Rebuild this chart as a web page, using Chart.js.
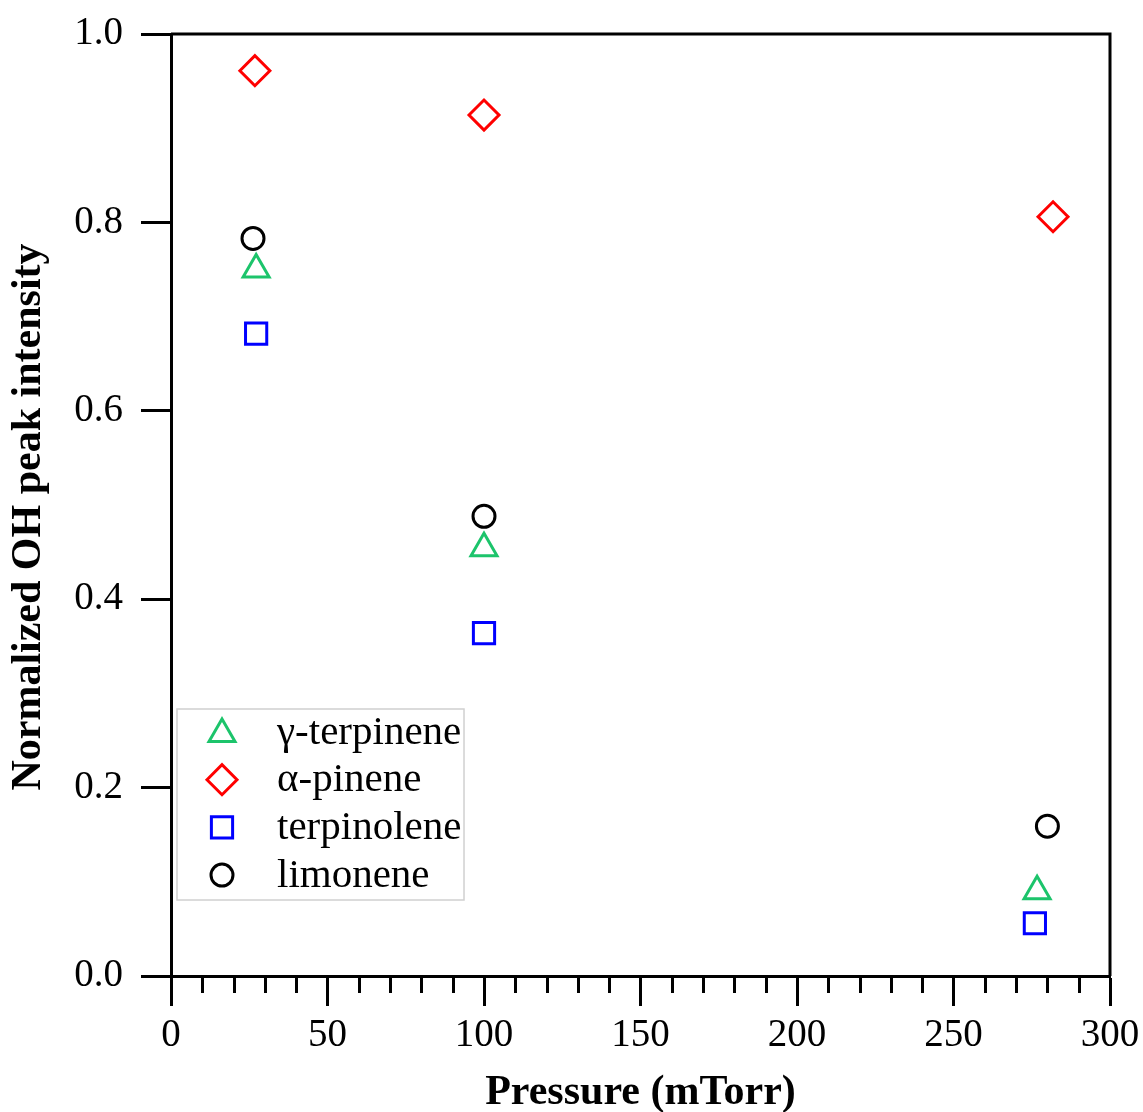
<!DOCTYPE html>
<html>
<head>
<meta charset="utf-8">
<script src="https://cdn.jsdelivr.net/npm/chart.js@4/dist/chart.umd.min.js"></script>
<style>
  html, body { margin: 0; padding: 0; background: #fff; }
  #wrap { width: 1143px; height: 1112px; }
</style>
</head>
<body>
<div id="wrap"><canvas id="myChart" width="1143" height="1112"></canvas></div>
<script>
// series, pressure in mTorr vs normalized OH peak
var seriesNames = ["\u03b3-terpinene", "\u03b1-pinene", "terpinolene", "limonene"];

var gammaX = [27.2, 100, 276.7];
var gammaY = [0.75, 0.454, 0.09];

var alphaX = [26.8, 100, 281.8];
var alphaY = [0.961, 0.914, 0.806];

var terpX = [27.2, 100, 276];
var terpY = [0.682, 0.364, 0.056];

var limoX = [26.2, 100, 280];
var limoY = [0.783, 0.488, 0.159];

var xTicks = [0, 50, 100, 150, 200, 250, 300];
var yTicks = [0.0, 0.2, 0.4, 0.6, 0.8, 1.0];

var yTitle = "Normalized OH peak intensity";

function toPoints(xs, ys) {
  var pts = [];
  for (var i = 0; i < xs.length; i++) pts.push({ x: xs[i], y: ys[i] });
  return pts;
}

var serif = "'Liberation Serif', 'Times New Roman', serif";

// frame on top/right, minor ticks on x, y title and the boxed legend
var framePlugin = {
  id: "frame",
  afterDraw: function (chart) {
    var ctx = chart.ctx;
    var a = chart.chartArea;
    var xs = chart.scales.x;
    ctx.save();
    ctx.strokeStyle = "#000";
    ctx.lineWidth = 3;
    ctx.beginPath();
    ctx.moveTo(a.left, a.top);
    ctx.lineTo(a.right, a.top);
    ctx.lineTo(a.right, a.bottom);
    ctx.stroke();

    // minor ticks every 10 mTorr
    ctx.beginPath();
    for (var v = 10; v < 300; v += 10) {
      if (v % 50 === 0) continue;
      var px = Math.round(xs.getPixelForValue(v)) + 0.5;
      ctx.moveTo(px, a.bottom);
      ctx.lineTo(px, a.bottom + 17);
    }
    ctx.stroke();

    // y title, sits a little below the axis middle
    ctx.save();
    ctx.translate(29, (a.top + a.bottom) / 2 + 12);
    ctx.rotate(-Math.PI / 2);
    ctx.font = "bold 42px " + serif;
    ctx.fillStyle = "#000";
    ctx.textAlign = "center";
    ctx.textBaseline = "middle";
    ctx.fillText(yTitle, 0, 0);
    ctx.restore();

    // legend
    var lx = a.left + 6, ly = a.top + 675, lw = 287, lh = 191;
    ctx.lineWidth = 1.5;
    ctx.strokeStyle = "#d0d0d0";
    ctx.strokeRect(lx, ly, lw, lh);
    ctx.font = "41px " + serif;
    ctx.textBaseline = "middle";
    ctx.textAlign = "left";
    chart.data.datasets.forEach(function (ds, i) {
      var cy = ly + 23 + i * 47.7;
      var cx = lx + 45;
      ctx.strokeStyle = ds.borderColor;
      ctx.fillStyle = "rgba(0,0,0,0)";
      ctx.lineWidth = ds.borderWidth;
      Chart.helpers.drawPoint(ctx, {
        pointStyle: ds.pointStyle,
        radius: ds.pointRadius,
        borderWidth: ds.borderWidth,
        rotation: 0
      }, cx, cy + (ds.pointStyle === "triangle" ? 2 : 0));
      ctx.fillStyle = "#000";
      ctx.fillText(ds.label, lx + 100, cy + 1);
    });
    ctx.restore();
  }
};

var ctx = document.getElementById("myChart").getContext("2d");
var chart = new Chart(ctx, {
  type: "scatter",
  data: {
    datasets: [
      {
        label: seriesNames[0],
        data: toPoints(gammaX, gammaY),
        pointStyle: "triangle",
        pointRadius: 15,
        borderColor: "#1cc46b",
        backgroundColor: "rgba(0,0,0,0)",
        borderWidth: 3
      },
      {
        label: seriesNames[1],
        data: toPoints(alphaX, alphaY),
        pointStyle: "rectRot",
        pointRadius: 15,
        borderColor: "#ff0000",
        backgroundColor: "rgba(0,0,0,0)",
        borderWidth: 3
      },
      {
        label: seriesNames[2],
        data: toPoints(terpX, terpY),
        pointStyle: "rect",
        pointRadius: 15,
        borderColor: "#0000ff",
        backgroundColor: "rgba(0,0,0,0)",
        borderWidth: 3
      },
      {
        label: seriesNames[3],
        data: toPoints(limoX, limoY),
        pointStyle: "circle",
        pointRadius: 11,
        borderColor: "#000000",
        backgroundColor: "rgba(0,0,0,0)",
        borderWidth: 3
      }
    ]
  },
  options: {
    responsive: false,
    animation: false,
    layout: { padding: { top: 34, right: 33, left: 0, bottom: 0 } },
    plugins: {
      legend: { display: false },
      tooltip: { enabled: false }
    },
    scales: {
      x: {
        type: "linear",
        min: 0,
        max: 300,
        afterBuildTicks: function (scale) {
          scale.ticks = xTicks.map(function (v) { return { value: v }; });
        },
        afterFit: function (scale) {
          scale.height = 136;
          scale.paddingLeft = 0;
          scale.paddingRight = 0;
        },
        ticks: {
          color: "#000",
          padding: 6,
          font: { family: serif, size: 39 }
        },
        grid: {
          drawOnChartArea: false,
          tickLength: 30,
          tickWidth: 3,
          tickColor: "#000"
        },
        border: { color: "#000", width: 3 },
        title: {
          display: true,
          text: "Pressure (mTorr)",
          color: "#000",
          font: { family: serif, size: 42, weight: "bold", lineHeight: 0.9 },
          padding: { top: 0, bottom: 0 }
        }
      },
      y: {
        type: "linear",
        min: 0,
        max: 1,
        afterBuildTicks: function (scale) {
          scale.ticks = yTicks.map(function (v) { return { value: v }; });
        },
        afterFit: function (scale) {
          scale.width = 171;
          scale.paddingTop = 0;
          scale.paddingBottom = 0;
        },
        ticks: {
          color: "#000",
          padding: 18,
          font: { family: serif, size: 39 },
          callback: function (v) { return Number(v).toFixed(1); }
        },
        grid: {
          drawOnChartArea: false,
          tickLength: 30,
          tickWidth: 3,
          tickColor: "#000"
        },
        border: { color: "#000", width: 3 }
      }
    }
  },
  plugins: [framePlugin]
});
</script>
</body>
</html>
